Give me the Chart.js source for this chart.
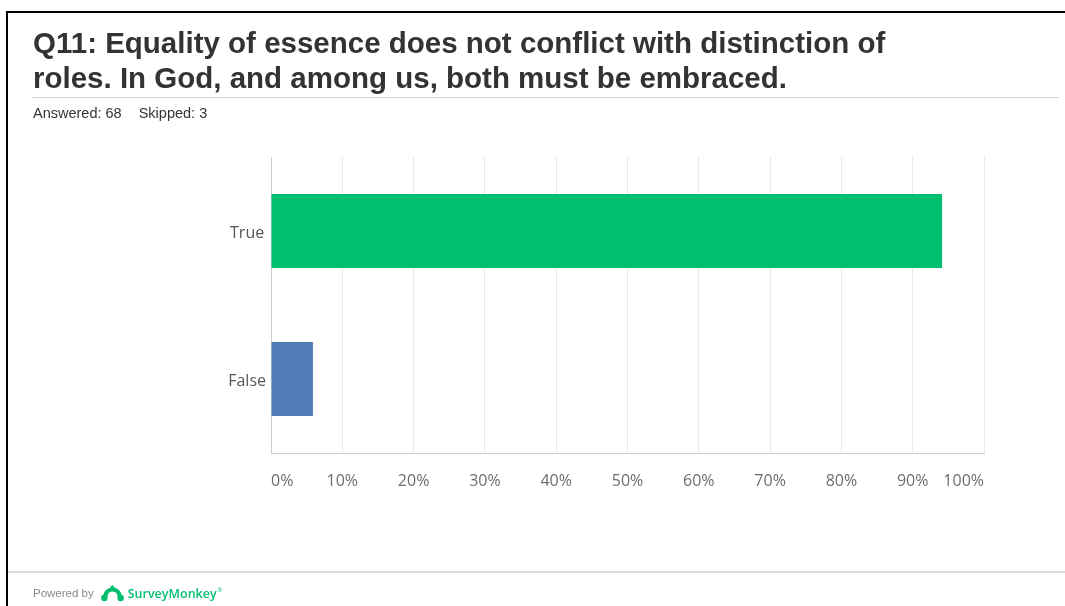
<!DOCTYPE html>
<html>
<head>
<meta charset="utf-8">
<title>Q11 survey results</title>
<script src="https://cdn.jsdelivr.net/npm/chart.js@4/dist/chart.umd.min.js"></script>
<style>
  html, body { margin: 0; padding: 0; background: #fff; }
  #page { position: relative; width: 1065px; height: 606px; overflow: hidden; font-family: "Liberation Sans", Arial, sans-serif; }
  #frame { position: absolute; left: 6px; top: 11px; right: 0; bottom: 0; border-top: 2px solid #000; border-left: 2px solid #000; }
  #chartBox { position: absolute; left: 0; top: 0; width: 1065px; height: 606px; }
  #title { position: absolute; left: 33px; top: 25px; margin: 0; font-size: 29.5px; line-height: 35px; font-weight: bold; color: #333; white-space: nowrap; }
  #titleRule { position: absolute; left: 32px; top: 97px; width: 1027px; height: 1px; background: #d2d2d2; }
  #meta { position: absolute; left: 33px; top: 104px; font-size: 14.5px; line-height: 18px; color: #333; white-space: nowrap; }
  #meta span + span { margin-left: 17px; }
  #footRule { position: absolute; left: 8px; top: 571px; right: 0; height: 2px; background: #dadada; }
  #footer { position: absolute; left: 33px; top: 583px; height: 20px; display: flex; align-items: center; white-space: nowrap; }
  #footer .by { font-size: 11.5px; color: #888; }
  #footer svg { margin-left: 7px; }
  #footer .brand { margin-left: 4px; font-family: "Open Sans", sans-serif; font-weight: 600; font-size: 12.5px; color: #00bf6f; }
  #footer .brand sup { font-size: 5px; vertical-align: 6px; margin-left: 1px; }
</style>
</head>
<body>
<div id="page">
  <div id="frame"></div>
  <div id="chartBox"><canvas id="chart"></canvas></div>
  <h1 id="title">Q11: Equality of essence does not conflict with distinction of<br>roles. In God, and among us, both must be embraced.</h1>
  <div id="titleRule"></div>
  <div id="meta"><span>Answered: 68</span><span>Skipped: 3</span></div>
  <div id="footRule"></div>
  <div id="footer">
    <span class="by">Powered by</span>
    <svg width="23" height="18" viewBox="0 0 23 18" aria-hidden="true">
      <path d="M4 15 C4 8 7.5 5.5 11.5 5.5 C15.5 5.5 19 8 19 15" fill="none" stroke="#00bf6f" stroke-width="4.2" stroke-linecap="round"/>
      <circle cx="3.3" cy="14" r="3.2" fill="#00bf6f"/>
      <circle cx="19.7" cy="14" r="3.2" fill="#00bf6f"/>
      <path d="M9 5 C9 2 11 0.8 12.5 1.2 C12 2.4 12.8 3.4 14.2 3.6 C13.6 5 12 5.6 9 5 Z" fill="#00bf6f"/>
    </svg>
    <span class="brand">SurveyMonkey<sup>®</sup></span>
  </div>
</div>
<script>
// Answer choices and the share of respondents (in %) who picked each one
const categories = ['True', 'False'];
const responsePercents = [94.12, 5.88];
const barColors = ['#00bf6f', '#507cb6'];
// Labels for the percentage axis, one per 10% step
const xTickLabels = ['0%', '10%', '20%', '30%', '40%', '50%', '60%', '70%', '80%', '90%', '100%'];

const tickFont = { family: '"Open Sans", sans-serif', size: 16 };

new Chart(document.getElementById('chart'), {
  type: 'bar',
  data: {
    labels: categories,
    datasets: [{
      data: responsePercents,
      backgroundColor: barColors,
      borderWidth: 0,
      categoryPercentage: 1.0,
      barPercentage: 0.5
    }]
  },
  options: {
    indexAxis: 'y',
    responsive: true,
    maintainAspectRatio: false,
    animation: false,
    layout: { padding: { top: 157, right: 81, bottom: 108, left: 0 } },
    plugins: {
      legend: { display: false },
      tooltip: { enabled: false },
      title: { display: false }
    },
    scales: {
      x: {
        min: 0,
        max: 100,
        grid: { color: '#e8e8e8', drawTicks: false },
        border: { display: true, color: '#cfcfcf' },
        ticks: {
          stepSize: 10,
          align: 'inner',
          padding: 19,
          color: '#6b6f74',
          font: tickFont,
          callback: (value, index) => xTickLabels[index]
        },
        afterFit(scale) { scale.height = 45; }
      },
      y: {
        grid: { display: false, drawTicks: false },
        border: { display: true, color: '#cfcfcf' },
        ticks: {
          crossAlign: 'center',
          padding: 5,
          labelOffset: 2,
          color: '#53575c',
          font: tickFont
        },
        afterFit(scale) { scale.width = 271; }
      }
    }
  }
});
</script>
</body>
</html>
